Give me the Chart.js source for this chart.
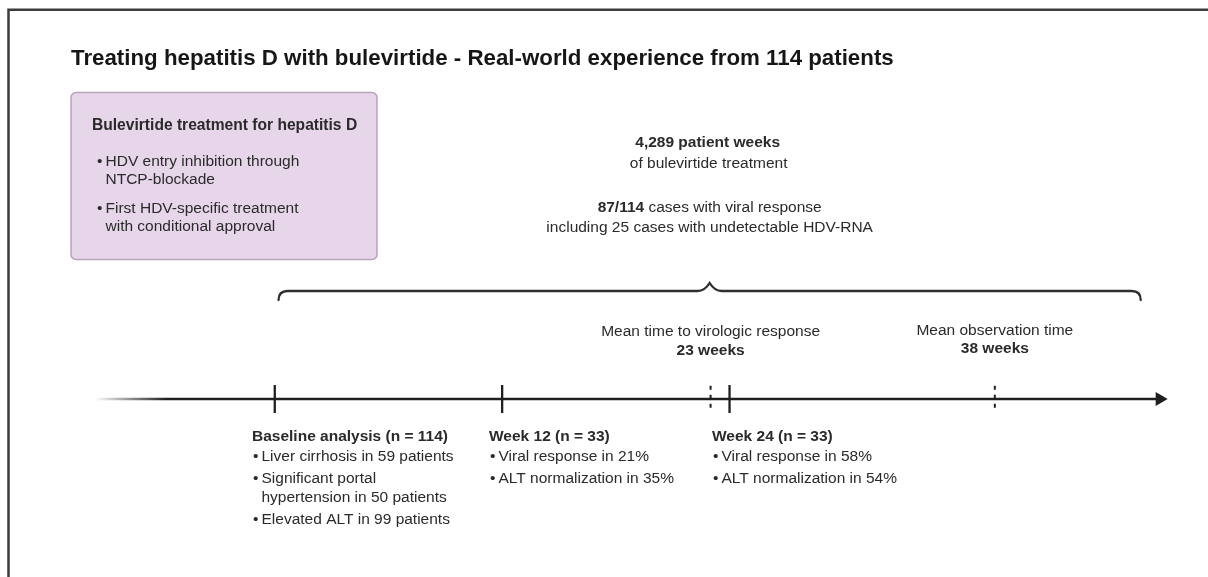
<!DOCTYPE html>
<html>
<head>
<meta charset="utf-8">
<script src="https://cdn.jsdelivr.net/npm/chart.js@4.4.1/dist/chart.umd.min.js"></script>
<style>
  html, body { margin: 0; padding: 0; background: #fff; overflow: hidden; }
  canvas { display: block; }
</style>
</head>
<body>
<canvas id="timeline" width="1208" height="577"></canvas>
<script>
// DATA
const chartTitle = "Treating hepatitis D with bulevirtide - Real-world experience from 114 patients";

const boxTitle = "Bulevirtide treatment for hepatitis D";
const boxBullets = [
  ["HDV entry inhibition through", "NTCP-blockade"],
  ["First HDV-specific treatment", "with conditional approval"]
];

const patientWeeks = "4,289";
const respondersCount = "87/114";
const undetectableCount = 25;

const milestoneWeeks = [0, 12, 24];
const milestoneTitles = ["Baseline analysis (n = 114)", "Week 12 (n = 33)", "Week 24 (n = 33)"];
const milestoneBullets = [
  [["Liver cirrhosis in 59 patients"], ["Significant portal", "hypertension in 50 patients"], ["Elevated ALT in 99 patients"]],
  [["Viral response in 21%"], ["ALT normalization in 35%"]],
  [["Viral response in 58%"], ["ALT normalization in 54%"]]
];

const meanWeeks = [23, 38];
const meanLabels = ["Mean time to virologic response", "Mean observation time"];
const meanValues = ["23 weeks", "38 weeks"];

const timelineFrom = -9.5;
const timelineTo = 46.7;
const braceFrom = 0.2;
const braceTo = 45.7;

// LAYOUT (pixels)
const FONT = '"Liberation Sans", Arial, Helvetica, sans-serif';
const TEXT = "#2a2a2a";
const INK = "#1f1f1f";
const milestoneX = [252, 489, 712];

function runs(ctx, parts, x, y, size, align, color) {
  const f = b => (b ? "bold " : "") + size + "px " + FONT;
  let total = 0;
  parts.forEach(p => { ctx.font = f(p[1]); total += ctx.measureText(p[0]).width; });
  let cx = align === "center" ? x - total / 2 : x;
  ctx.textAlign = "left";
  ctx.textBaseline = "alphabetic";
  ctx.fillStyle = color || TEXT;
  parts.forEach(p => {
    ctx.font = f(p[1]);
    ctx.fillText(p[0], cx, y);
    cx += ctx.measureText(p[0]).width;
  });
}

function bulletList(ctx, items, x, y, size, paraGap, lineGap) {
  items.forEach((lines, i) => {
    if (i > 0) y += paraGap;
    runs(ctx, [["\u2022", false]], x, y, size, "left");
    lines.forEach((line, j) => {
      if (j > 0) y += lineGap;
      runs(ctx, [[line, false]], x + 8.5, y, size, "left");
    });
  });
}

const decorations = {
  id: "decorations",
  beforeDraw(chart) {
    const ctx = chart.ctx;
    ctx.save();
    ctx.fillStyle = "#fff";
    ctx.fillRect(0, 0, chart.width, chart.height);
    // frame
    ctx.strokeStyle = "#3c3c3c";
    ctx.lineWidth = 2.5;
    ctx.beginPath();
    ctx.moveTo(8.5, chart.height);
    ctx.lineTo(8.5, 9.8);
    ctx.lineTo(chart.width, 9.8);
    ctx.stroke();
    ctx.restore();
  },
  afterDatasetsDraw(chart) {
    const ctx = chart.ctx;
    const xs = chart.scales.x;
    ctx.save();

    // title
    runs(ctx, [[chartTitle, true]], 71, 65, 22.3, "left", "#161616");

    // info box
    ctx.fillStyle = "#e7d5ea";
    ctx.strokeStyle = "#b8a3bd";
    ctx.lineWidth = 1.5;
    ctx.beginPath();
    ctx.roundRect(71, 92.5, 306, 167, 5);
    ctx.fill();
    ctx.stroke();
    runs(ctx, [[boxTitle, true]], 92, 130, 15.6, "left");
    bulletList(ctx, boxBullets, 97, 166, 15.5, 29, 18);

    // brace
    const bl = xs.getPixelForValue(braceFrom);
    const br = xs.getPixelForValue(braceTo);
    const bm = (bl + br) / 2;
    const by = 291;
    ctx.strokeStyle = "#2e2e2e";
    ctx.lineWidth = 2.3;
    ctx.lineCap = "round";
    ctx.beginPath();
    ctx.moveTo(bl, 300);
    ctx.quadraticCurveTo(bl, by, bl + 9, by);
    ctx.lineTo(bm - 12, by);
    ctx.quadraticCurveTo(bm - 5, by, bm, by - 8);
    ctx.quadraticCurveTo(bm + 5, by, bm + 12, by);
    ctx.lineTo(br - 9, by);
    ctx.quadraticCurveTo(br, by, br, 300);
    ctx.stroke();

    // summary above brace
    runs(ctx, [[patientWeeks + " patient weeks", true]], bm - 2, 147, 15.5, "center");
    runs(ctx, [["of bulevirtide treatment", false]], bm - 1, 168, 15.5, "center");
    runs(ctx, [[respondersCount, true], [" cases with viral response", false]], bm, 212, 15.5, "center");
    runs(ctx, [["including " + undetectableCount + " cases with undetectable HDV-RNA", false]], bm, 232, 15.5, "center");

    // mean labels
    meanWeeks.forEach((w, i) => {
      const px = xs.getPixelForValue(w);
      runs(ctx, [[meanLabels[i], false]], px, 336 - i * 1.5, 15.5, "center");
      runs(ctx, [[meanValues[i], true]], px, 355 - i * 2.5, 15.5, "center");
    });

    // milestone blocks
    milestoneWeeks.forEach((w, i) => {
      runs(ctx, [[milestoneTitles[i], true]], milestoneX[i], 441, 15.5, "left");
      bulletList(ctx, milestoneBullets[i], milestoneX[i] + 1, 461, 15.5, 22, 19);
    });

    ctx.restore();
  }
};

new Chart(document.getElementById("timeline"), {
  type: "line",
  data: {
    datasets: [
      {
        // milestone ticks
        data: milestoneWeeks.map(w => ({ x: w, y: 0 })),
        showLine: false,
        pointStyle: "line",
        pointRotation: 90,
        pointRadius: 14,
        pointHoverRadius: 14,
        pointBorderWidth: 2.3,
        pointBorderColor: INK
      },
      ...meanWeeks.map(w => ({
        data: [{ x: w, y: 0.44 }, { x: w, y: -0.44 }],
        borderColor: INK,
        borderWidth: 2,
        borderDash: [4, 5],
        pointRadius: 0
      })),
      {
        // main axis with arrow
        data: [{ x: timelineFrom, y: 0 }, { x: timelineTo, y: 0 }],
        borderWidth: 2.4,
        borderColor: c => {
          const ch = c.chart;
          if (!ch.chartArea || !ch.scales.x) return INK;
          const x0 = ch.scales.x.getPixelForValue(timelineFrom);
          if (!Number.isFinite(x0)) return INK;
          const g = ch.ctx.createLinearGradient(x0, 0, x0 + 72, 0);
          g.addColorStop(0, "rgba(31,31,31,0)");
          g.addColorStop(1, INK);
          return g;
        },
        pointStyle: ["circle", "triangle"],
        pointRadius: [0, 8],
        pointHoverRadius: [0, 8],
        pointRotation: [0, 90],
        pointBackgroundColor: INK,
        pointBorderWidth: 0
      }
    ]
  },
  options: {
    responsive: false,
    animation: false,
    events: [],
    layout: { autoPadding: false, padding: { top: 369, bottom: 148, left: 0, right: 0 } },
    scales: {
      x: { type: "linear", min: -14.5, max: 49.25, display: false },
      y: { type: "linear", min: -1, max: 1, display: false }
    },
    plugins: {
      legend: { display: false },
      tooltip: { enabled: false }
    }
  },
  plugins: [decorations]
});
</script>
</body>
</html>
